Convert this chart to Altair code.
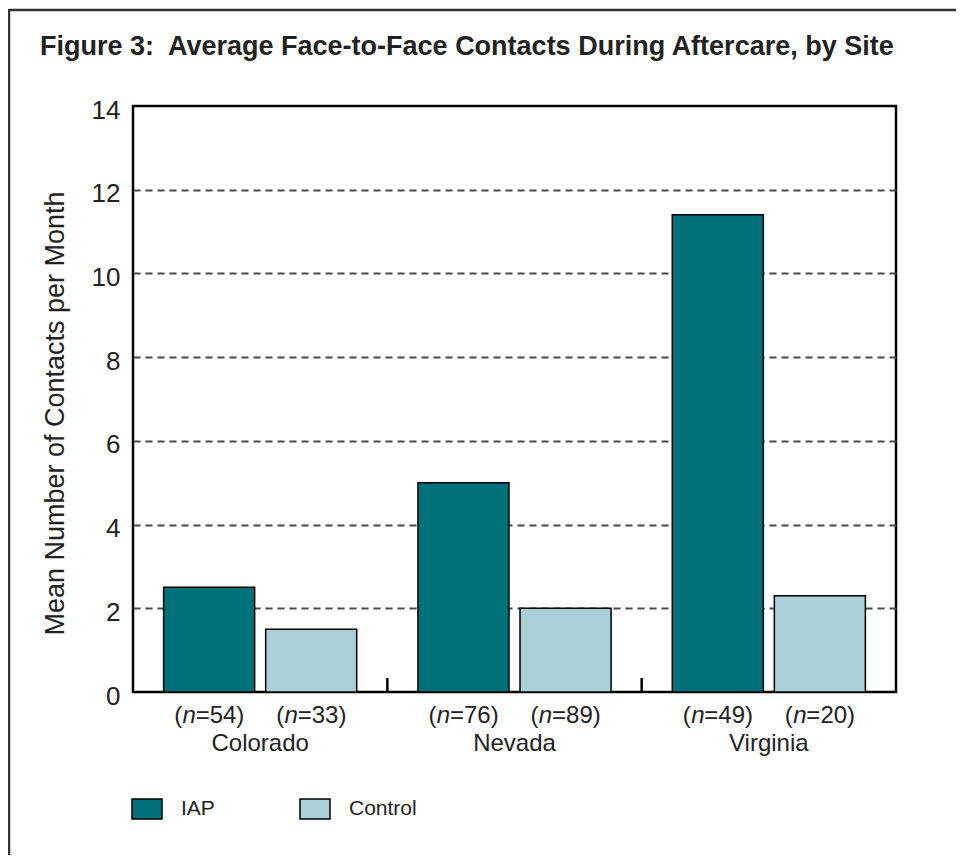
import altair as alt
import pandas as pd

sites = ["Colorado", "Nevada", "Virginia"]
groups = ["IAP", "Control"]
iap_values = [2.5, 5.0, 11.4]
control_values = [1.5, 2.0, 2.3]
iap_n = [54, 76, 49]
control_n = [33, 89, 20]
boundary_sites = ["Nevada", "Virginia"]
y_ticks = [0, 2, 4, 6, 8, 10, 12, 14]
colors = ["#00707A", "#AACFD7"]
title_text = "Figure 3:\u00a0 Average Face-to-Face Contacts During Aftercare, by Site"

rows = []
for i, s in enumerate(sites):
    rows.append({"Site": s, "Group": "IAP", "Value": iap_values[i], "N": iap_n[i]})
    rows.append({"Site": s, "Group": "Control", "Value": control_values[i], "N": control_n[i]})
df = pd.DataFrame(rows)
df["rest"] = "=" + df["N"].astype(str) + ")"

FONT = "Liberation Sans"
W, H = 763, 586

xenc = alt.X("Site:N", sort=sites,
             scale=alt.Scale(paddingInner=0, paddingOuter=0),
             axis=alt.Axis(title=None, ticks=False, domain=False, labelFontSize=24,
                           labelFont=FONT, labelColor="#222", labelPadding=39,
                           labelAngle=0))
xoff = alt.XOffset("Group:N", sort=groups,
                   scale=alt.Scale(paddingInner=0.108, paddingOuter=0.3))

base = alt.Chart(df)

bars = base.mark_bar(stroke="black", strokeWidth=1.5).encode(
    x=xenc,
    xOffset=xoff,
    y=alt.Y("Value:Q", scale=alt.Scale(domain=[0, 14], nice=False),
            axis=alt.Axis(values=y_ticks, title="Mean Number of Contacts per Month",
                          titleFontSize=27, titleFont=FONT, titleFontWeight="normal",
                          titleColor="#222", titleX=-70, titleY=307,
                          titleBaseline="alphabetic", titleAngle=-90,
                          labelFontSize=26, labelFont=FONT, labelColor="#222",
                          labelPadding=13, labelOffset=4, ticks=False, domain=False,
                          grid=True, gridDash=[7, 5], gridColor="#4a4a4a", gridWidth=2,
                          gridOpacity={"condition": {"test": "datum.value == 0 || datum.value == 14",
                                                     "value": 0}, "value": 1})),
    color=alt.Color("Group:N", sort=groups,
                    scale=alt.Scale(domain=groups, range=colors),
                    legend=alt.Legend(title=None, orient="none", direction="horizontal",
                                      legendX=3, legendY=692,
                                      symbolType="M-1.5,-1H1.5V1H-1.5Z", symbolSize=400,
                                      symbolStrokeColor="black", symbolStrokeWidth=1.5,
                                      symbolOpacity=1,
                                      labelFontSize=21, labelFont=FONT, labelColor="#222",
                                      labelOffset=23, columnPadding=82, padding=0)),
)

lparen = base.mark_text(font=FONT, fontSize=24, color="#222", align="right",
                        baseline="alphabetic", dx=-27, dy=31).encode(
    x=alt.X("Site:N", sort=sites), xOffset=xoff, y=alt.datum(0), text=alt.value("("))
nital = base.mark_text(font=FONT, fontSize=24, fontStyle="italic", color="#222",
                       align="center", baseline="alphabetic", dx=-20, dy=31).encode(
    x=alt.X("Site:N", sort=sites), xOffset=xoff, y=alt.datum(0), text=alt.value("n"))
rest = base.mark_text(font=FONT, fontSize=24, color="#222", align="left",
                      baseline="alphabetic", dx=-13.5, dy=31).encode(
    x=alt.X("Site:N", sort=sites), xOffset=xoff, y=alt.datum(0), text="rest:N")

bdf = pd.DataFrame({"Site": boundary_sites})
gticks = alt.Chart(bdf).mark_rule(color="black", strokeWidth=2.5).encode(
    x=alt.X("Site:N", sort=sites, bandPosition=0),
    y=alt.datum(0),
    y2=alt.value(H - 14),
)

one = pd.DataFrame({"k": [0]})
frame_top = alt.Chart(one).mark_rule(color="#333", strokeWidth=2.5).encode(
    x=alt.value(-124), x2=alt.value(830), y=alt.value(-96))
frame_left = alt.Chart(one).mark_rule(color="#333", strokeWidth=2.5).encode(
    x=alt.value(-124), y=alt.value(-97), y2=alt.value(760))
title_mark = alt.Chart(one).mark_text(
    font=FONT, fontSize=27, fontWeight="bold", color="#222",
    align="left", baseline="alphabetic").encode(
    x=alt.value(-93), y=alt.value(-51), text=alt.value(title_text))

chart = alt.layer(bars, lparen, nital, rest, gticks, frame_top, frame_left, title_mark).properties(
    width=W, height=H,
    autosize=alt.AutoSizeParams(type="none"),
    padding={"left": 125, "top": 98, "right": 60, "bottom": 163},
).configure(background="white").configure_view(stroke="black", strokeWidth=2.5)

chart.save("out.html", embed_options={"renderer": "svg", "actions": False})
